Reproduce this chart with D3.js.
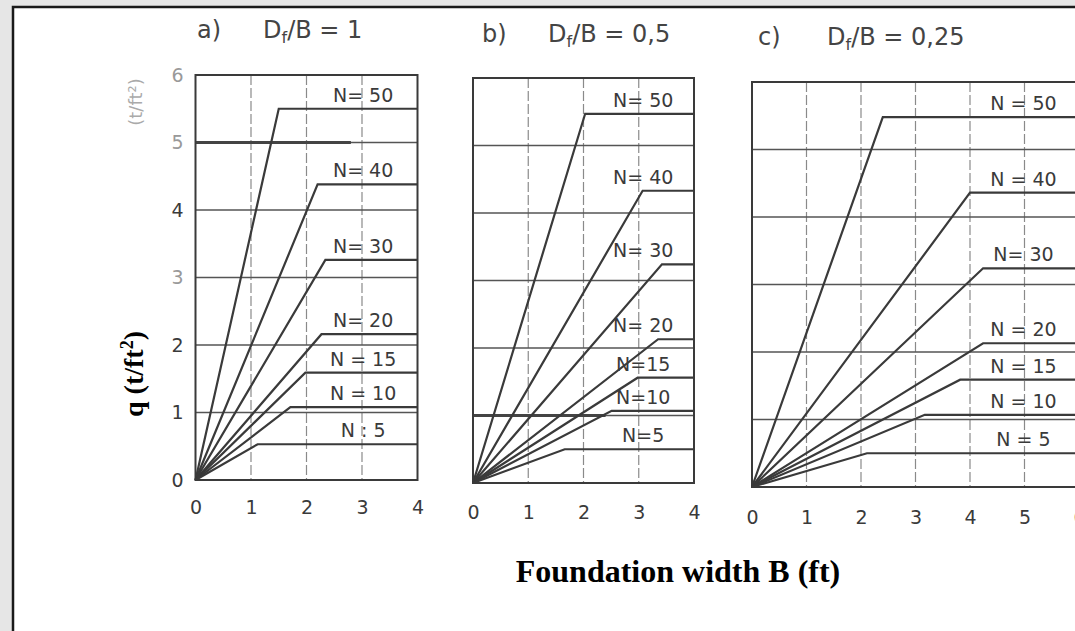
<!DOCTYPE html>
<html>
<head>
<meta charset="utf-8">
<script src="https://cdn.jsdelivr.net/npm/d3@7"></script>
<style>
  body { margin: 0; background: #e6e6e6; }
  svg { display: block; }
</style>
</head>
<body>
<div id="chart"></div>
<script>
// values: q rises linearly from 0 to a break point, then stays flat
var nValues = [50, 40, 30, 20, 15, 10, 5];

// a) Df/B = 1
var breakA = [1.5, 2.2, 2.34, 2.27, 1.98, 1.71, 1.12];
var qA = [5.5, 4.38, 3.26, 2.16, 1.59, 1.08, 0.53];
var labelsA = ['N= 50', 'N= 40', 'N= 30', 'N= 20', 'N = 15', 'N = 10', 'N : 5'];

// b) Df/B = 0,5
var breakB = [2.03, 3.07, 3.42, 3.35, 2.98, 2.51, 1.66];
var qB = [5.47, 4.33, 3.24, 2.13, 1.56, 1.07, 0.50];
var labelsB = ['N= 50', 'N= 40', 'N= 30', 'N= 20', 'N=15', 'N=10', 'N=5'];

// c) Df/B = 0,25
var breakC = [2.40, 4.0, 4.24, 4.24, 3.82, 3.17, 2.11];
var qC = [5.48, 4.36, 3.24, 2.13, 1.59, 1.07, 0.50];
var labelsC = ['N = 50', 'N = 40', 'N= 30', 'N = 20', 'N = 15', 'N = 10', 'N = 5'];

var titles = ['a)', 'b)', 'c)'];
var ratios = ['1', '0,5', '0,25'];
var xMaxes = [4, 4, 6];
var yTicks = [0, 1, 2, 3, 4, 5, 6];

// gridlines that came out heavier in the scan: [q level, drawn up to B]
var heavyGrid = [[5, 2.8], [1, 2.4], null];

// 1. svg size
var svgWidth = 1075;
var svgHeight = 631;

// 2. where each panel sits on the page
var layout = [
  { left: 195.5, right: 417.5, top: 75, bottom: 480, labelX: 3.02, titleX: 197, ratioX: 263, titleY: 38, tickY: 507 },
  { left: 473, right: 694, top: 78, bottom: 483, labelX: 3.08, titleX: 482, ratioX: 548, titleY: 42, tickY: 512 },
  { left: 752, right: 1079, top: 82, bottom: 487, labelX: 4.98, titleX: 758, ratioX: 827, titleY: 45, tickY: 517 }
];

var breaks = [breakA, breakB, breakC];
var qs = [qA, qB, qC];
var labels = [labelsA, labelsB, labelsC];

var svg = d3.select('#chart')
  .append('svg')
  .attr('width', svgWidth)
  .attr('height', svgHeight);

// page frame
svg.append('rect')
  .attr('x', 12).attr('y', 6)
  .attr('width', svgWidth).attr('height', svgHeight)
  .attr('fill', '#fff');
svg.append('path')
  .attr('d', `M13,${svgHeight} V7 H${svgWidth}`)
  .attr('fill', 'none')
  .attr('stroke', '#1a1a1a')
  .attr('stroke-width', 2.5);

var ink = '#3a3a3a';
var tickFont = '"DejaVu Sans", sans-serif';

layout.forEach(function(p, i) {
  var xScale = d3.scaleLinear().domain([0, xMaxes[i]]).range([p.left, p.right]);
  var yScale = d3.scaleLinear().domain([0, 6]).range([p.bottom, p.top]);
  var g = svg.append('g');

  // vertical grid, dashed
  g.selectAll('.vgrid')
    .data(d3.range(1, xMaxes[i]))
    .enter()
    .append('line')
    .attr('x1', d => xScale(d)).attr('x2', d => xScale(d))
    .attr('y1', p.top).attr('y2', p.bottom)
    .attr('stroke', '#8a8a8a')
    .attr('stroke-width', 1.2)
    .attr('stroke-dasharray', '10,3');

  // horizontal grid, solid
  g.selectAll('.hgrid')
    .data(d3.range(1, 6))
    .enter()
    .append('line')
    .attr('x1', p.left).attr('x2', p.right)
    .attr('y1', d => yScale(d)).attr('y2', d => yScale(d))
    .attr('stroke', '#555')
    .attr('stroke-width', 1.4);

  if (heavyGrid[i]) {
    g.append('line')
      .attr('x1', p.left).attr('x2', xScale(heavyGrid[i][1]))
      .attr('y1', yScale(heavyGrid[i][0])).attr('y2', yScale(heavyGrid[i][0]))
      .attr('stroke', '#444')
      .attr('stroke-width', 3);
  }

  // plot border
  g.append('rect')
    .attr('x', p.left).attr('y', p.top)
    .attr('width', p.right - p.left).attr('height', p.bottom - p.top)
    .attr('fill', 'none')
    .attr('stroke', ink)
    .attr('stroke-width', 2);

  // N curves
  var line = d3.line().x(d => xScale(d[0])).y(d => yScale(d[1]));
  nValues.forEach(function(n, k) {
    var pts = [[0, 0], [breaks[i][k], qs[i][k]], [xMaxes[i], qs[i][k]]];
    g.append('path')
      .datum(pts)
      .attr('d', line)
      .attr('fill', 'none')
      .attr('stroke', ink)
      .attr('stroke-width', 2.2);

    g.append('text')
      .attr('x', xScale(p.labelX))
      .attr('y', yScale(qs[i][k]) - 7)
      .attr('text-anchor', 'middle')
      .attr('font-family', tickFont)
      .attr('font-size', '19px')
      .attr('fill', ink)
      .text(labels[i][k]);
  });

  // x axis ticks
  var xAxis = d3.axisBottom(xScale)
    .tickValues(d3.range(0, xMaxes[i] + 1))
    .tickSize(0)
    .tickFormat(d3.format('d'));
  var xg = g.append('g')
    .attr('transform', `translate(0, ${p.tickY - 10})`)
    .call(xAxis);
  xg.select('.domain').remove();
  xg.selectAll('text')
    .attr('font-family', tickFont)
    .attr('font-size', '19px')
    .attr('fill', ink)
    .attr('dy', '0.71em');

  // title  "a)   Df/B = 1"
  g.append('text')
    .attr('x', p.titleX).attr('y', p.titleY)
    .attr('font-family', tickFont)
    .attr('font-size', '24px')
    .attr('fill', '#444')
    .text(titles[i]);
  var t = g.append('text')
    .attr('x', p.ratioX).attr('y', p.titleY)
    .attr('font-family', tickFont)
    .attr('font-size', '24px')
    .attr('fill', '#444');
  t.append('tspan').text('D');
  t.append('tspan').attr('font-size', '16px').attr('dy', 5).text('f');
  t.append('tspan').attr('dy', -5).text('/B = ' + ratios[i]);

  // y axis only on panel a
  if (i === 0) {
    var yAxis = d3.axisLeft(yScale)
      .tickValues(yTicks)
      .tickSize(0)
      .tickFormat(d3.format('d'));
    var yg = g.append('g')
      .attr('transform', `translate(${p.left - 9}, 0)`)
      .call(yAxis);
    yg.select('.domain').remove();
    yg.selectAll('text')
      .attr('font-family', tickFont)
      .attr('font-size', '19px')
      .attr('fill', d => (d === 6 || d === 5 || d === 3) ? '#999' : ink);

    // faded original unit label from the scan
    g.append('text')
      .attr('transform', `translate(142, 102) rotate(-90)`)
      .attr('text-anchor', 'middle')
      .attr('font-family', tickFont)
      .attr('font-size', '18px')
      .attr('fill', '#aaa')
      .text('(t/ft²)');
  }
});

// axis titles
svg.append('text')
  .attr('transform', 'translate(143, 374) rotate(-90)')
  .attr('text-anchor', 'middle')
  .attr('font-family', '"Liberation Serif", "Times New Roman", serif')
  .attr('font-weight', 'bold')
  .attr('font-size', '28px')
  .attr('fill', '#000')
  .html('q (t/ft<tspan dy="-10" font-size="18px">2</tspan><tspan dy="10">)</tspan>');

svg.append('text')
  .attr('x', 678).attr('y', 582)
  .attr('text-anchor', 'middle')
  .attr('font-family', '"Liberation Serif", "Times New Roman", serif')
  .attr('font-weight', 'bold')
  .attr('font-size', '32px')
  .attr('fill', '#000')
  .text('Foundation width B (ft)');
</script>
</body>
</html>
